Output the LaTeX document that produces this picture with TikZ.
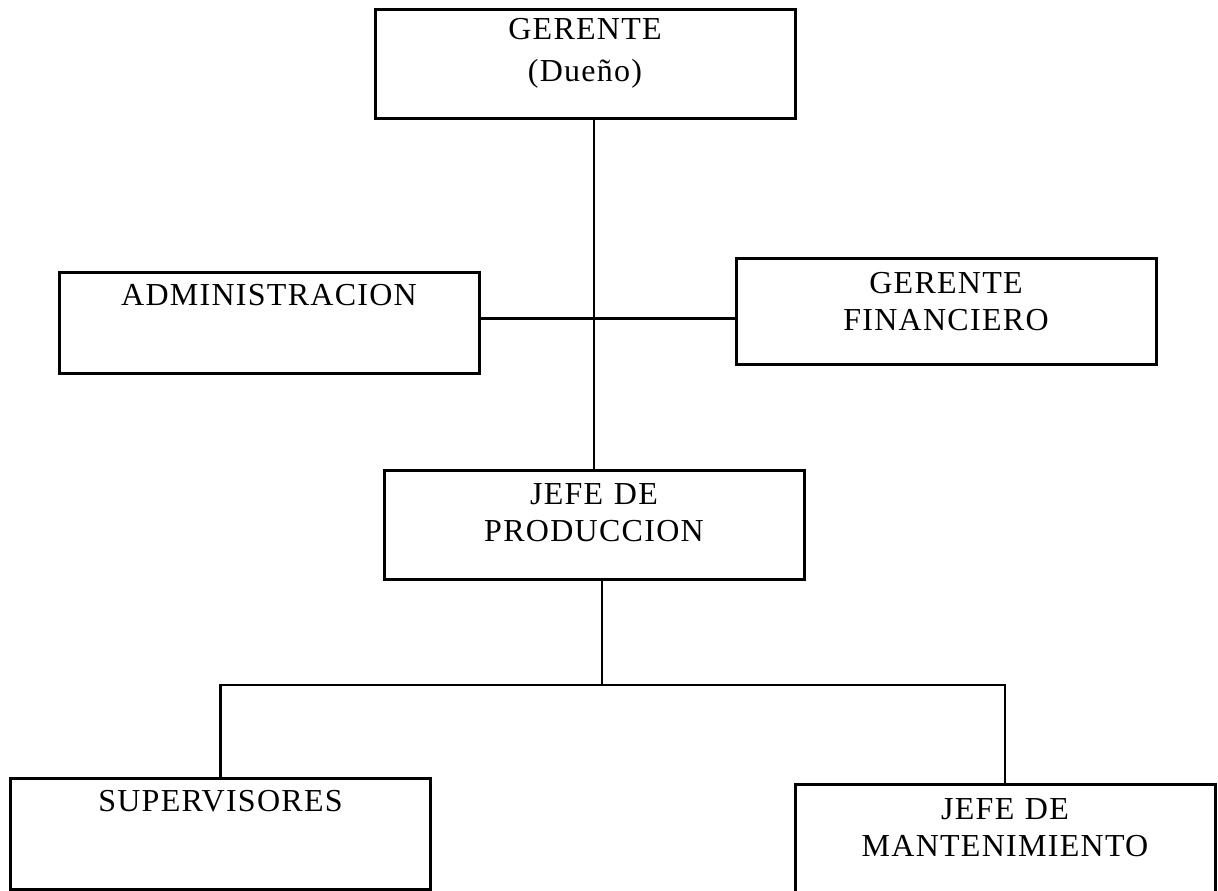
\documentclass[tikz,border=0pt]{standalone}
\usepackage{fontspec}
\setmainfont[LetterSpace=4]{Liberation Serif}
\usetikzlibrary{positioning}

\begin{document}
\begin{tikzpicture}[
  x=0.5pt,y=-0.5pt,
  puesto/.style={draw,line width=1.5pt,anchor=north,text width=206pt,
                 align=center,inner xsep=2pt,inner ysep=0pt,text height=17pt,
                 font=\fontsize{16}{18.5}\selectfont},
  enlace/.style={draw,line width=1.1pt}
]
\useasboundingbox (0,0) rectangle (1218,890);

\node[puesto,text height=15pt,text depth=39.5pt] (gerente) at (585,8) {GERENTE\\[2.5pt](Dueño)};
\node[puesto,text height=16.5pt,text depth=34pt] (admin) at (269,271) {ADMINISTRACION};
\node[puesto,text height=17.5pt,text depth=35.5pt] (financiero) at (946,257) {GERENTE\\FINANCIERO};
\node[puesto,text depth=37.5pt] (produccion) at (594,469) {JEFE DE\\PRODUCCION};
\node[puesto,text height=16.5pt,text depth=39pt] (supervisores) at (220.5,777) {SUPERVISORES};
\node[puesto,text height=17.5pt,text depth=40pt] (mantenimiento) at (1005,783) {JEFE DE\\MANTENIMIENTO};
\coordinate (rama) at (602,685);

\draw[enlace] (produccion.north) -- (produccion.north |- gerente.south);
\draw[enlace] ([yshift=2.25pt]admin.east) -- ([yshift=2.25pt]admin.east -| financiero.west);
\draw[enlace] (produccion.south -| rama) -- (rama);
\draw[enlace] (supervisores.north) -- (supervisores.north |- rama)
      -- (mantenimiento.north |- rama) -- (mantenimiento.north);
\end{tikzpicture}
\end{document}
